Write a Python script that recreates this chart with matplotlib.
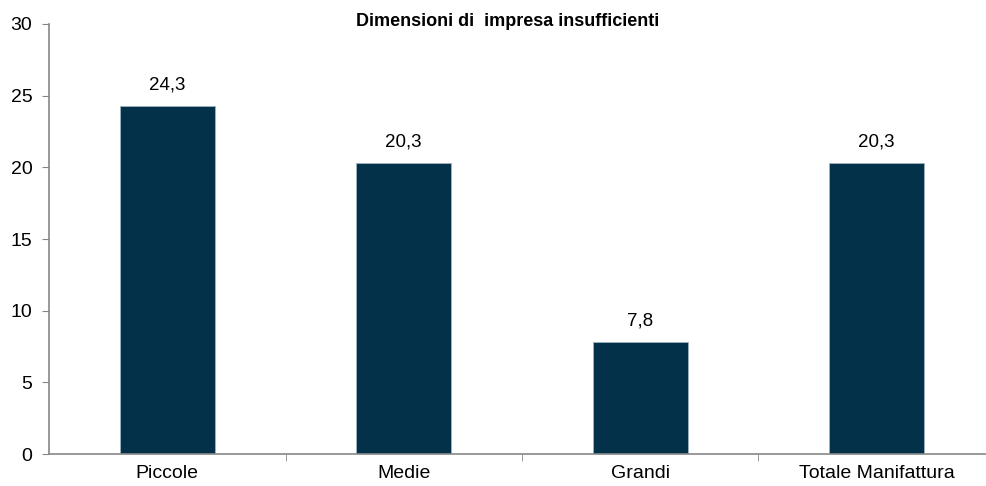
import numpy as np
import matplotlib.pyplot as plt

plt.rcParams['font.family'] = ['Liberation Sans', 'DejaVu Sans']

# dati
categorie = ['Piccole', 'Medie', 'Grandi', 'Totale Manifattura']
valori = [24.3, 20.3, 7.8, 20.3]
titolo = 'Dimensioni di  impresa insufficienti'

fig = plt.figure(figsize=(9.86, 4.86), dpi=100)
ax = fig.add_axes([49 / 986, 32 / 486, 946 / 986, 430 / 486])

x = np.arange(len(categorie))
bars = ax.bar(x, valori, width=0.4, color='#023149', edgecolor='#9fb4c2', linewidth=0.6)

# etichette dei valori sopra le barre
for xi, v in zip(x, valori):
    ax.annotate(f'{v:.1f}'.replace('.', ','), (xi, v), xytext=(0, 9), textcoords='offset points',
                ha='center', va='bottom', fontsize=13.5)

ax.set_xlim(-0.5, len(categorie) - 0.5)
ax.set_ylim(0, 30)
ax.set_yticks(range(0, 31, 5))
ax.tick_params(axis='y', labelsize=14, length=5, color='#888888', pad=7)

# tick tra le categorie, etichette al centro
ax.set_xticks(x)
ax.set_xticklabels(categorie, fontsize=14)
ax.tick_params(axis='x', which='major', length=0, pad=8)
ax.set_xticks(np.arange(0.5, len(categorie) - 0.5), minor=True)
ax.tick_params(axis='x', which='minor', length=5, color='#888888')

for s in ['top', 'right']:
    ax.spines[s].set_visible(False)
for s in ['left', 'bottom']:
    ax.spines[s].set_color('#888888')
    ax.spines[s].set_linewidth(1.2)

ax.text(0.485, 1.005, titolo, transform=ax.transAxes, ha='center', va='center',
        fontsize=13, fontweight='bold')

fig.savefig('out.png', dpi=100)
